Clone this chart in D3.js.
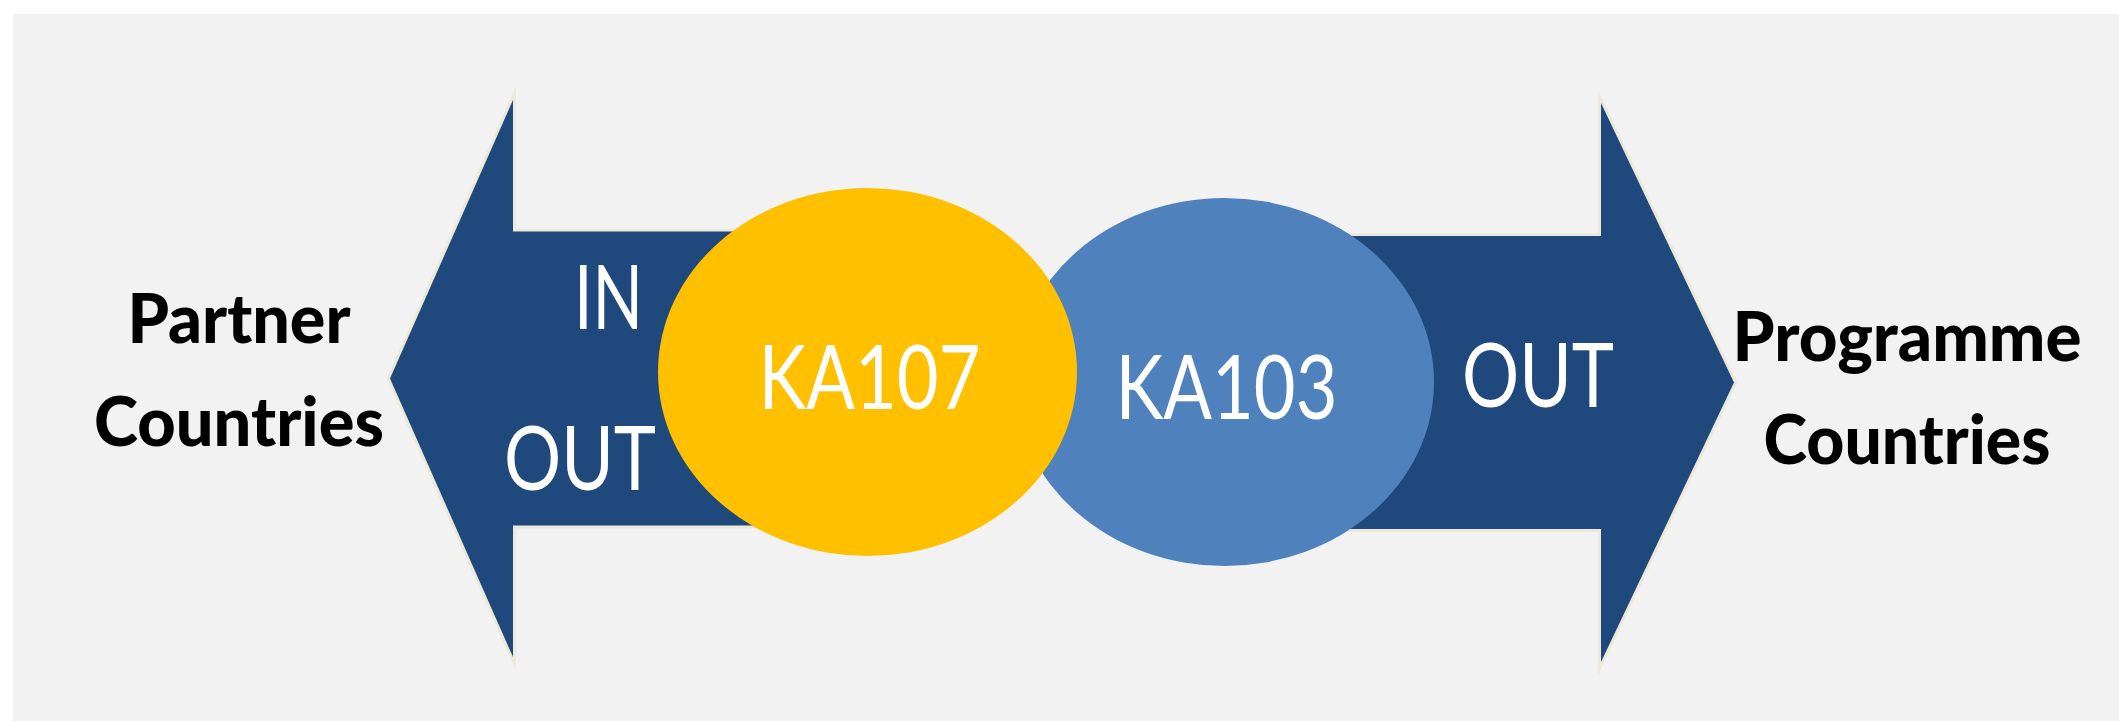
<!DOCTYPE html>
<html>
<head>
<meta charset="utf-8">
<script src="https://cdn.jsdelivr.net/npm/d3@7"></script>
<style>
  html, body { margin: 0; padding: 0; background: #fff; }
  svg { display: block; }
</style>
</head>
<body>
<script>
// Diagram content
let programmes = ['KA107', 'KA103']
let partnerFlows = ['IN', 'OUT']
let programmeFlows = ['OUT']
let partnerLabel = ['Partner', 'Countries']
let programmeLabel = ['Programme', 'Countries']

let width = 2119
let height = 721
let darkBlue = '#1f497d'
let glow = '#ece8da'
let programmeColors = d3.scaleOrdinal().domain(programmes).range(['#ffc000', '#4f81bd'])
let font = 'Lato, "Open Sans", sans-serif'

let svg = d3.select('body').append('svg')
  .attr('width', width)
  .attr('height', height)

// grey panel
svg.append('rect')
  .attr('x', 13)
  .attr('y', 14)
  .attr('width', width - 13)
  .attr('height', height - 14)
  .attr('fill', '#f2f2f2')

// horizontal placement of the two programme ellipses
let x = d3.scalePoint().domain(programmes).range([867.5, 1224.5])
let cy = {KA107: 372, KA103: 382}

// arrow shape: tip, head back edge, head half height, shaft half height, shaft end
function arrowPath(tipX, backX, midY, headHalf, shaftHalf, endX) {
  let p = d3.path()
  p.moveTo(tipX, midY)
  p.lineTo(backX, midY - headHalf)
  p.lineTo(backX, midY - shaftHalf)
  p.lineTo(endX, midY - shaftHalf)
  p.lineTo(endX, midY + shaftHalf)
  p.lineTo(backX, midY + shaftHalf)
  p.lineTo(backX, midY + headHalf)
  p.closePath()
  return p.toString()
}

let arrows = [
  {d: arrowPath(390, 513, 378.5, 278.5, 147, 880)},
  {d: arrowPath(1734, 1601, 382.5, 279.5, 146.5, 1220)}
]

svg.selectAll('.arrow')
  .data(arrows)
  .enter()
  .append('path')
  .attr('class', 'arrow')
  .attr('d', d => d.d)
  .attr('fill', darkBlue)
  .attr('stroke', glow)
  .attr('stroke-width', 6)
  .attr('stroke-miterlimit', 12)
  .attr('paint-order', 'stroke')

// squeeze a text sideways so it spans [left, left + w] on the given baseline
function fitText(g, str, left, baseline, w, size, weight, colour) {
  let t = g.append('text')
    .attr('font-family', font)
    .attr('font-size', size)
    .attr('font-weight', weight)
    .attr('fill', colour)
    .text(str)
  let natural = t.node().getComputedTextLength()
  let sx = w / natural
  t.attr('transform', 'translate(' + left + ',' + baseline + ') scale(' + sx + ',1)')
  return t
}

// flow words on the left shaft (OUT partly hidden by the yellow ellipse)
let partnerFlowPos = [{x: 574, y: 329, w: 69}, {x: 504, y: 490, w: 152}]
let flowsLeft = svg.append('g')
partnerFlows.forEach((d, i) => {
  fitText(flowsLeft, d, partnerFlowPos[i].x, partnerFlowPos[i].y, partnerFlowPos[i].w, 89, 'normal', '#fff')
})

let flowsRight = svg.append('g')
programmeFlows.forEach(d => {
  fitText(flowsRight, d, 1462, 407, 152, 89, 'normal', '#fff')
})

// ellipses, KA103 first so KA107 sits on top
let order = programmes.slice().reverse()
let progs = svg.selectAll('.prog')
  .data(order)
  .enter()
  .append('g')
  .attr('class', 'prog')

progs.append('ellipse')
  .attr('cx', d => x(d))
  .attr('cy', d => cy[d])
  .attr('rx', 209.5)
  .attr('ry', 184)
  .attr('fill', d => programmeColors(d))

progs.each(function (d) {
  fitText(d3.select(this), d, x(d) + 2 - 111, cy[d] + 37, 222, 89, 'normal', '#fff')
})

// country group labels
let sides = [
  {lines: partnerLabel, cx: 239, y0: 343, widths: [223, 290]},
  {lines: programmeLabel, cx: 1907, y0: 361, widths: [349, 287]}
]

sides.forEach(side => {
  let g = svg.append('g')
  side.lines.forEach((d, i) => {
    let w = side.widths[i]
    fitText(g, d, side.cx - w / 2, side.y0 + i * 103, w, 68, 900, '#000')
  })
})
</script>
</body>
</html>
